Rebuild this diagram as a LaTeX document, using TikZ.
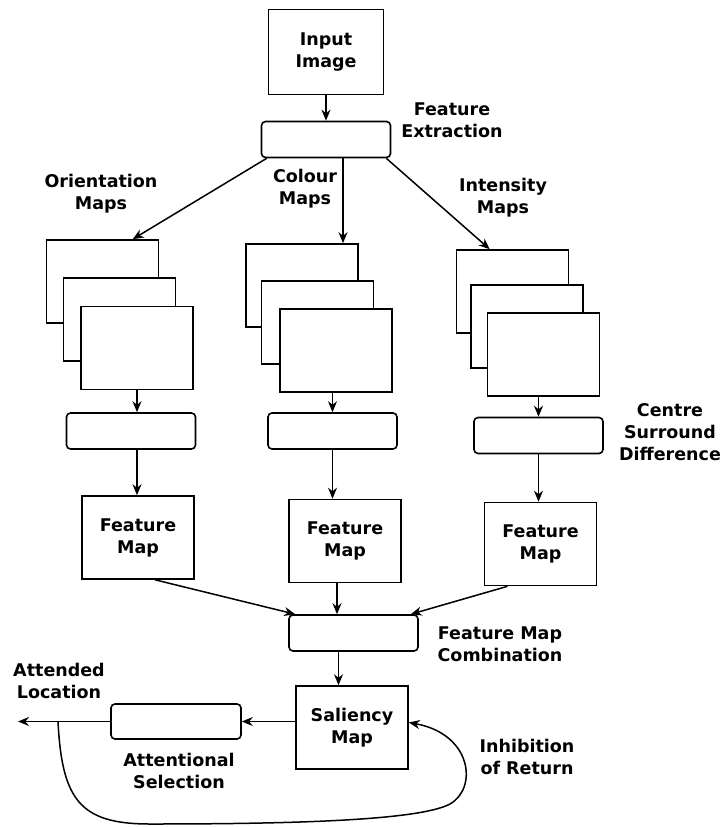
\documentclass[tikz,border=0pt]{standalone}
\usepackage{fontspec}
\setmainfont{DejaVu Sans}
\usetikzlibrary{arrows.meta,calc}
\begin{document}
\begin{tikzpicture}[x=1pt,y=-1pt,
  every node/.style={font=\fontsize{17.5}{22}\selectfont\bfseries, align=center, inner sep=0pt},
  box/.style={draw, line width=1.6pt, minimum width=112pt, minimum height=83pt},
  stage/.style={draw, line width=1.6pt, rounded corners=4pt, minimum width=129pt, minimum height=36pt},
  lbl/.style={},
  arr/.style={line width=1.5pt, -{Stealth[length=11pt,width=9pt]}}]
\useasboundingbox (0,0) rectangle (725,827);

% input and feature extraction
\node[box, minimum width=115pt, minimum height=85pt] (inp) at (326,52) {Input\\Image};
\node[stage] (fe) at (326,139.5) {};
\node[lbl] (fel) at (452,120) {Feature\\Extraction};
\draw[arr] (inp.south) -- (fe.north);

% map stacks (back to front)
\node[box, fill=white] (o1) at (102.5,281.5) {};
\node[box, fill=white] (o2) at (119.5,319.5) {};
\node[box, fill=white] (o3) at (137,348) {};
\node[box, fill=white] (c1) at (302,285.5) {};
\node[box, fill=white] (c2) at (317.5,322.5) {};
\node[box, fill=white] (c3) at (336,350.5) {};
\node[box, fill=white] (i1) at (512.5,291.5) {};
\node[box, fill=white] (i2) at (527,326.5) {};
\node[box, fill=white] (i3) at (543.5,354.5) {};

\node[lbl] (ol) at (101,194) {Orientation\\Maps};
\node[lbl] (cl) at (305,189) {Colour\\Maps};
\node[lbl] (il) at (503,198) {Intensity\\Maps};

\draw[arr] ([xshift=6pt]fe.south west) -- ([xshift=87pt]o1.north west);
\draw[arr] ([xshift=17pt]fe.south) -- ([xshift=17pt]fe.south |- c1.north);
\draw[arr] ([xshift=-5pt]fe.south east) -- ([xshift=34pt]i1.north west);

% centre surround stages
\node[stage] (ob) at (131,431) {};
\node[stage] (cb) at (332.5,431) {};
\node[stage] (ib) at (538.5,435.5) {};
\node[lbl] (csl) at (670,432) {Centre\\Surround\\Difference};

\draw[arr] (o3.south) -- (o3.south |- ob.north);
\draw[arr] (c3.south -| cb.north) -- (cb.north);
\draw[arr] (i3.south -| ib.north) -- (ib.north);

% feature maps
\node[box] (f1) at (138,537.5) {Feature\\Map};
\node[box] (f2) at (345,541) {Feature\\Map};
\node[box] (f3) at (540.5,544) {Feature\\Map};

\draw[arr] (o3.south |- ob.south) -- (o3.south |- f1.north);
\draw[arr] (cb.south) -- (cb.south |- f2.north);
\draw[arr] (ib.south) -- (ib.south |- f3.north);

% combination
\node[stage] (comb) at (353.5,633) {};
\node[lbl] (combl) at (500,644) {Feature Map\\Combination};
\draw[arr] ([xshift=17pt]f1.south) -- ([xshift=7pt]comb.north west);
\draw[arr] ([xshift=-8pt]f2.south) -- ([xshift=-8pt]f2.south |- comb.north);
\draw[arr] ([xshift=-33pt]f3.south) -- ([xshift=-8pt]comb.north east);

% saliency and attention
\node[box] (sal) at (352,727.5) {Saliency\\Map};
\draw[arr] ([xshift=-15pt]comb.south) -- ([xshift=-15pt]comb.south |- sal.north);

\node[stage, minimum width=130pt, minimum height=35pt] (att) at (176,721.5) {};
\node[lbl] (attl) at (179,771) {Attentional\\Selection};
\draw[arr] (att.east -| sal.west) -- (att.east);

\coordinate (out) at (18,721.5);
\coordinate (tap) at (58,721.5);
\node[lbl] (outl) at (59,681) {Attended\\Location};
\draw[arr] (att.west) -- (out);

% inhibition of return loop
\node[lbl] (iorl) at (527,757) {Inhibition\\of Return};
\draw[arr] (tap) .. controls (62,800) and (80,824) .. (150,824)
  .. controls (300,824) and (420,820) .. (450,804)
  .. controls (478,788) and (472,734) .. ([yshift=5pt]sal.east);
\end{tikzpicture}
\end{document}
